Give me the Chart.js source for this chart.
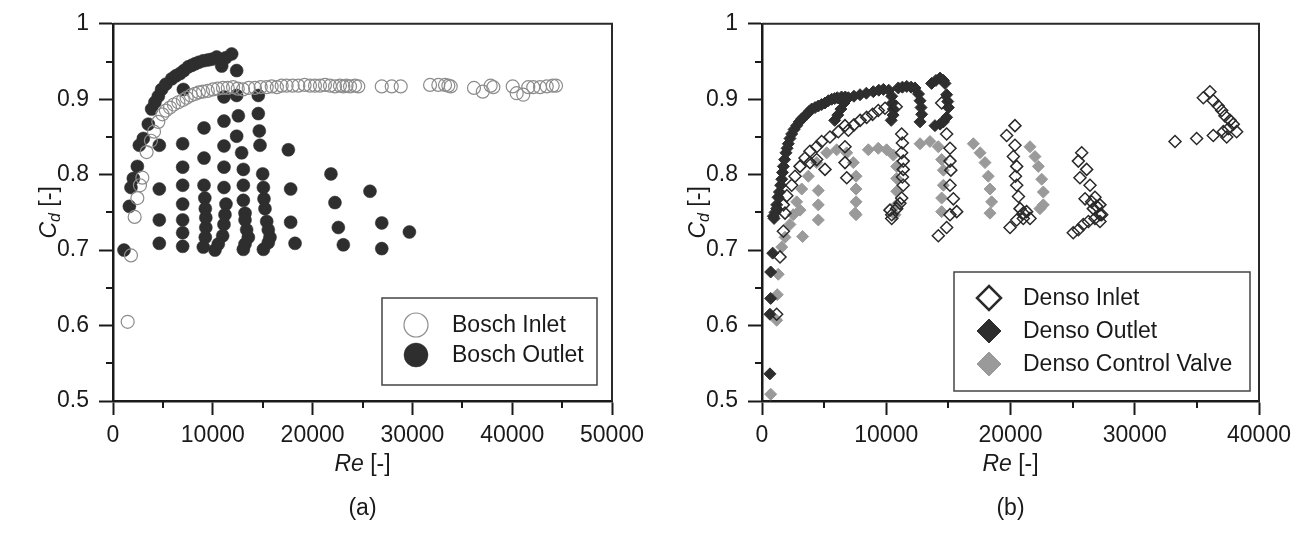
<!DOCTYPE html>
<html>
<head>
<meta charset="utf-8">
<script src="https://cdn.jsdelivr.net/npm/chart.js@4.4.1/dist/chart.umd.min.js"></script>
<style>
  html, body { margin: 0; padding: 0; background: #fff; }
  #wrap { position: relative; width: 1311px; height: 536px; }
  canvas { position: absolute; top: 0; }
</style>
</head>
<body>
<div id="wrap">
  <canvas id="chartA" width="655" height="536" style="left:0"></canvas>
  <canvas id="chartB" width="656" height="536" style="left:655px"></canvas>
</div>
<script>
// ---- axes ----
const cdTicks = [0.5, 0.6, 0.7, 0.8, 0.9, 1];
const cdMinor = [0.55, 0.65, 0.75, 0.85, 0.95];
const reTicksA = [0, 10000, 20000, 30000, 40000, 50000];
const reMinorA = [5000, 15000, 25000, 35000, 45000];
const reTicksB = [0, 10000, 20000, 30000, 40000];
const reMinorB = [5000, 15000, 25000, 35000];

// ---- (a) Bosch ----
const boschInletRe = [1470, 1800, 2170, 2440, 2700, 2940, 3370, 3800, 4110, 4540, 4950, 5300, 5710, 6100, 6550, 7000, 7380, 7800, 8220, 8600,
  9020, 9500, 10020, 10500, 11020, 11500, 12030, 12500, 13030, 13600, 14230, 14800, 15400, 15900, 16420, 16900, 17400, 18000, 18570, 19200,
  19740, 20240, 20740, 21240, 21740, 22250, 22740, 23080, 23400, 23750, 24250, 24580, 26930, 27930, 28830, 31770, 32600, 33270, 33600, 33840,
  36170, 37050, 37840, 38110, 40050, 40450, 41110, 41610, 42110, 42790, 43460, 44060, 44390];
const boschInletCd = [0.605, 0.693, 0.744, 0.769, 0.786, 0.796, 0.830, 0.845, 0.857, 0.870, 0.880, 0.885, 0.889, 0.893, 0.896, 0.899, 0.902, 0.905, 0.907, 0.909,
  0.910, 0.911, 0.913, 0.914, 0.915, 0.915, 0.916, 0.914, 0.913, 0.915, 0.915, 0.916, 0.916, 0.917, 0.916, 0.918, 0.918, 0.918, 0.918, 0.919,
  0.918, 0.918, 0.918, 0.919, 0.918, 0.917, 0.918, 0.917, 0.918, 0.917, 0.918, 0.917, 0.917, 0.917, 0.917, 0.919, 0.919, 0.919, 0.918, 0.917,
  0.915, 0.910, 0.918, 0.916, 0.917, 0.908, 0.906, 0.916, 0.916, 0.916, 0.917, 0.918, 0.918];

const boschOutletRe = [1100, 1640, 1800, 2040, 2440, 2640, 3040, 3540, 3870, 4200, 4540, 4870, 5300, 5880, 6300, 6710, 7100, 7550, 7900, 8220,
  8600, 9050, 9500, 9890, 10390, 10890, 11300, 11890, 12390, 7050,
  4640, 4640, 4640, 4640,
  6980, 6980, 6980, 6980, 6980, 6980, 6980,
  9120, 9120, 9120, 9200, 9250, 9300, 9300, 9250, 9050,
  11120, 11120, 11120, 11120, 11120, 11320, 11220, 11120, 10990, 10550, 10220,
  12390, 12560, 12390, 12890, 13060, 13060, 13060, 13230, 13230, 13390, 13560, 13230, 13060,
  14560, 14560, 14660, 14730, 15000, 15070, 15130, 15230, 15400, 15560, 15730, 15560, 15070,
  17570, 17800, 17800, 18240,
  21840, 22240, 22580, 23080,
  25750, 26930, 26930, 29700];
const boschOutletCd = [0.700, 0.758, 0.783, 0.795, 0.811, 0.839, 0.848, 0.867, 0.887, 0.896, 0.904, 0.913, 0.920, 0.927, 0.931, 0.934, 0.938, 0.943, 0.945, 0.947,
  0.949, 0.951, 0.952, 0.953, 0.956, 0.944, 0.955, 0.960, 0.938, 0.913,
  0.839, 0.781, 0.740, 0.709,
  0.841, 0.810, 0.786, 0.761, 0.740, 0.723, 0.705,
  0.862, 0.822, 0.786, 0.769, 0.755, 0.743, 0.730, 0.717, 0.704,
  0.903, 0.871, 0.838, 0.810, 0.783, 0.761, 0.747, 0.734, 0.719, 0.708, 0.700,
  0.905, 0.878, 0.851, 0.829, 0.807, 0.786, 0.766, 0.749, 0.740, 0.727, 0.717, 0.708, 0.701,
  0.905, 0.881, 0.858, 0.839, 0.801, 0.783, 0.768, 0.755, 0.738, 0.727, 0.717, 0.710, 0.701,
  0.833, 0.781, 0.737, 0.709,
  0.801, 0.763, 0.730, 0.707,
  0.778, 0.736, 0.702, 0.724];

// ---- (b) Denso ----
const densoInletRe = [1180, 1450, 1720, 1850, 1720, 2000, 2390, 2660, 3060, 3460, 3860, 4400, 4800, 5470, 6140, 6680, 6950,
  6680, 6680, 6820, 3860, 4400, 5070,
  7400, 7900, 8420, 8900, 9360, 9900, 10800,
  11240, 11300, 11240, 11370, 11370, 11300, 11370, 11240, 11100, 10840, 10440, 10300, 10440,
  14460, 14860, 15130, 15130, 15200, 15130, 15400, 15670, 15130, 14860, 14190,
  20360, 19690, 20360, 20230, 20500, 20400, 20500, 20640, 20770, 21030, 19960, 20500, 21030, 21300, 21570,
  25730, 25460, 26130, 25590, 26400, 26000, 26530, 26800, 26940, 27200, 25050, 25460, 25860, 26270, 26800, 27200, 27340, 26670, 27200,
  33240, 34980, 36320, 37130, 35520, 36050, 36320, 36720, 37000, 37260, 37670, 37930, 38200, 37530, 37400];
const densoInletCd = [0.615, 0.691, 0.725, 0.749, 0.760, 0.772, 0.786, 0.798, 0.811, 0.822, 0.831, 0.837, 0.844, 0.850, 0.857, 0.865, 0.859,
  0.837, 0.816, 0.796, 0.816, 0.820, 0.807,
  0.866, 0.872, 0.876, 0.880, 0.885, 0.888, 0.890,
  0.854, 0.842, 0.829, 0.818, 0.807, 0.797, 0.786, 0.769, 0.762, 0.755, 0.747, 0.753, 0.742,
  0.895, 0.854, 0.835, 0.818, 0.806, 0.786, 0.768, 0.751, 0.747, 0.730, 0.719,
  0.865, 0.852, 0.839, 0.824, 0.811, 0.798, 0.786, 0.771, 0.755, 0.742, 0.730, 0.740, 0.749, 0.751, 0.742,
  0.829, 0.818, 0.807, 0.796, 0.786, 0.768, 0.764, 0.770, 0.758, 0.747, 0.723, 0.727, 0.734, 0.738, 0.742, 0.738, 0.747, 0.755, 0.760,
  0.844, 0.848, 0.852, 0.857, 0.902, 0.910, 0.898, 0.891, 0.885, 0.878, 0.872, 0.867, 0.857, 0.861, 0.850];

const densoOutletRe = [640, 640, 700, 700, 860, 970, 1180,
  910, 1050, 1180, 1290, 1400, 1500, 1590, 1650, 1720, 1820, 1930, 2020, 2120, 2250, 2390, 2580, 2790, 3000, 3200, 3400, 3600, 3800, 4000, 4270,
  4530, 4800, 5070, 5340, 5610, 5850, 6060,
  6400, 6700, 6600, 6350, 6100, 5850,
  6950, 7400, 7890, 8400, 8960, 9400, 9770, 10200, 10440, 10500, 10570, 10550, 10400,
  10970, 11300, 11650, 12000, 12310, 12600, 12720, 12800, 12850, 12720,
  13650, 14000, 14330, 14600, 14730, 14860, 14950, 15000, 14860, 14600, 14330, 13920];
const densoOutletCd = [0.536, 0.615, 0.636, 0.671, 0.696, 0.742, 0.755,
  0.745, 0.750, 0.760, 0.770, 0.777, 0.786, 0.794, 0.803, 0.811, 0.820, 0.829, 0.835, 0.841, 0.848, 0.854, 0.860, 0.865, 0.870, 0.874, 0.877, 0.880, 0.884, 0.887, 0.889,
  0.891, 0.893, 0.895, 0.898, 0.900, 0.901, 0.902,
  0.903, 0.903, 0.895, 0.887, 0.879, 0.872,
  0.902, 0.904, 0.906, 0.908, 0.910, 0.912, 0.913, 0.912, 0.904, 0.895, 0.887, 0.879, 0.872,
  0.915, 0.916, 0.917, 0.916, 0.915, 0.907, 0.898, 0.889, 0.880, 0.870,
  0.921, 0.925, 0.928, 0.925, 0.921, 0.906, 0.897, 0.889, 0.876, 0.870, 0.867, 0.865];

const densoValveRe = [700, 1180, 1230, 1310, 1590, 1850, 2250, 2520, 3060, 3270,
  2790, 3200, 3730, 4400, 5210, 6010, 6820, 7350, 7570, 7570, 7570, 7570, 7490,
  4530, 4530, 4530,
  8560, 9360, 10030, 10570, 10840, 10840, 10840, 10840, 10700,
  12720, 13520, 14190, 14460, 14600, 14600, 14460, 14460,
  17010, 17550, 17950, 18210, 18350, 18480, 18350,
  21570, 21970, 22240, 22510, 22640, 22640, 22370];
const densoValveCd = [0.509, 0.607, 0.641, 0.668, 0.704, 0.717, 0.734, 0.747, 0.753, 0.718,
  0.764, 0.781, 0.798, 0.816, 0.829, 0.833, 0.829, 0.816, 0.798, 0.781, 0.764, 0.747, 0.749,
  0.779, 0.760, 0.740,
  0.833, 0.835, 0.833, 0.826, 0.811, 0.795, 0.778, 0.760, 0.747,
  0.841, 0.844, 0.837, 0.820, 0.806, 0.786, 0.769, 0.751,
  0.841, 0.829, 0.816, 0.798, 0.781, 0.764, 0.749,
  0.837, 0.824, 0.811, 0.794, 0.777, 0.760, 0.755];

const FONT = "'Liberation Sans', Arial, sans-serif";
const INK = '#1a1a1a';

function pts(xs, ys) {
  return xs.map((x, i) => ({ x: x, y: ys[i] }));
}

function drawMarker(ctx, ds, x, y, r) {
  ctx.save();
  ctx.beginPath();
  if (ds.pointStyle === 'rectRot') {
    ctx.moveTo(x, y - r); ctx.lineTo(x + r, y); ctx.lineTo(x, y + r); ctx.lineTo(x - r, y);
    ctx.closePath();
  } else {
    ctx.arc(x, y, r, 0, Math.PI * 2);
  }
  ctx.fillStyle = ds.backgroundColor === 'rgba(0,0,0,0)' ? '#fff' : ds.backgroundColor;
  ctx.fill();
  ctx.lineWidth = ds.legendBorder || ds.borderWidth;
  ctx.strokeStyle = ds.borderColor;
  ctx.stroke();
  ctx.restore();
}

// text pieces: [text, italic, size, dy]
function drawPieces(ctx, pieces, cx, cy) {
  let total = 0;
  pieces.forEach(p => {
    ctx.font = (p[1] ? 'italic ' : '') + p[2] + 'px ' + FONT;
    total += ctx.measureText(p[0]).width;
  });
  let x = cx - total / 2;
  pieces.forEach(p => {
    ctx.font = (p[1] ? 'italic ' : '') + p[2] + 'px ' + FONT;
    ctx.fillText(p[0], x, cy + p[3]);
    x += ctx.measureText(p[0]).width;
  });
}

const framePlugin = {
  id: 'frame',
  afterDraw(chart, args, o) {
    const ctx = chart.ctx;
    const a = chart.chartArea;
    const sx = chart.scales.x, sy = chart.scales.y;
    ctx.save();
    // minor ticks
    ctx.strokeStyle = INK;
    ctx.lineWidth = 2;
    ctx.beginPath();
    o.minorY.forEach(v => {
      const p = Math.round(sy.getPixelForValue(v));
      ctx.moveTo(a.left - 7, p); ctx.lineTo(a.left, p);
    });
    o.minorX.forEach(v => {
      const p = Math.round(sx.getPixelForValue(v));
      ctx.moveTo(p, a.bottom); ctx.lineTo(p, a.bottom + 7);
    });
    ctx.stroke();
    // top and right frame
    ctx.strokeStyle = '#2a2a2a';
    ctx.lineWidth = 2;
    ctx.beginPath();
    ctx.moveTo(a.left, a.top); ctx.lineTo(a.right, a.top); ctx.lineTo(a.right, a.bottom);
    ctx.stroke();

    // axis titles
    ctx.fillStyle = INK;
    ctx.textBaseline = 'middle';
    ctx.textAlign = 'left';
    const mid = (a.left + a.right) / 2;
    drawPieces(ctx, [['Re', true, 23, 0], [' [-]', false, 23, 0]], mid, o.xTitleY);
    drawPieces(ctx, [[o.panel, false, 23, 0]], mid, o.panelY);
    ctx.save();
    ctx.translate(o.yTitleX, (a.top + a.bottom) / 2);
    ctx.rotate(-Math.PI / 2);
    drawPieces(ctx, [['C', true, 23, 0], ['d', true, 16, 6], [' [-]', false, 23, 0]], 0, 0);
    ctx.restore();

    // legend
    const L = o.legend;
    ctx.fillStyle = '#fff';
    ctx.fillRect(L.x, L.y, L.w, L.h);
    ctx.strokeStyle = '#444';
    ctx.lineWidth = 1.5;
    ctx.strokeRect(L.x, L.y, L.w, L.h);
    chart.data.datasets.forEach((ds, i) => {
      const yy = L.y + L.first + i * L.gap;
      drawMarker(ctx, ds, L.x + L.mx, yy, L.r);
      ctx.fillStyle = INK;
      ctx.font = '23px ' + FONT;
      ctx.textAlign = 'left';
      ctx.textBaseline = 'middle';
      ctx.fillText(ds.label, L.x + L.tx, yy + 1);
    });
    ctx.restore();
  }
};

function makeChart(id, c) {
  return new Chart(document.getElementById(id), {
    type: 'scatter',
    data: { datasets: c.datasets },
    options: {
      responsive: false,
      animation: false,
      events: [],
      layout: { padding: { left: 0, top: 14, right: c.padRight, bottom: 0 } },
      plugins: {
        legend: { display: false },
        tooltip: { enabled: false },
        frame: c.frame
      },
      scales: {
        x: {
          type: 'linear',
          min: 0,
          max: c.xTicks[c.xTicks.length - 1],
          afterBuildTicks: s => { s.ticks = c.xTicks.map(v => ({ value: v })); },
          afterFit: s => { s.height = 135; },
          ticks: {
            callback: v => String(v),
            font: { family: FONT, size: 23 },
            color: INK,
            padding: 7,
            maxRotation: 0,
            autoSkip: false
          },
          grid: { drawOnChartArea: false, tickLength: 14, tickWidth: 2, tickColor: INK },
          border: { color: INK, width: 2.5 }
        },
        y: {
          type: 'linear',
          min: 0.5,
          max: 1,
          afterBuildTicks: s => { s.ticks = cdTicks.map(v => ({ value: v })); },
          afterFit: s => { s.width = c.yWidth; },
          ticks: {
            callback: v => (v === 1 ? '1' : v.toFixed(1)),
            font: { family: FONT, size: 23 },
            color: INK,
            padding: 10
          },
          grid: { drawOnChartArea: false, tickLength: 14, tickWidth: 2, tickColor: INK },
          border: { color: INK, width: 2.5 }
        }
      }
    },
    plugins: [framePlugin]
  });
}

makeChart('chartA', {
  padRight: 43,
  yWidth: 113,
  xTicks: reTicksA,
  frame: {
    minorX: reMinorA, minorY: cdMinor, panel: '(a)',
    xTitleY: 465, panelY: 509, yTitleX: 50,
    legend: { x: 382, y: 298, w: 215, h: 87, first: 27, gap: 30, mx: 34, tx: 70, r: 12 }
  },
  datasets: [
    {
      label: 'Bosch Inlet',
      data: pts(boschInletRe, boschInletCd),
      pointStyle: 'circle',
      pointRadius: 6.5,
      backgroundColor: 'rgba(0,0,0,0)',
      borderColor: '#8c8c8c',
      borderWidth: 1.2,
      legendBorder: 1.2
    },
    {
      label: 'Bosch Outlet',
      data: pts(boschOutletRe, boschOutletCd),
      pointStyle: 'circle',
      pointRadius: 6.5,
      backgroundColor: '#2e2e2e',
      borderColor: '#2e2e2e',
      borderWidth: 0.5
    }
  ]
});

makeChart('chartB', {
  padRight: 52,
  yWidth: 107,
  xTicks: reTicksB,
  frame: {
    minorX: reMinorB, minorY: cdMinor, panel: '(b)',
    xTitleY: 465, panelY: 509, yTitleX: 44,
    legend: { x: 299, y: 272, w: 296, h: 119, first: 26, gap: 33, mx: 35, tx: 69, r: 12 }
  },
  datasets: [
    {
      label: 'Denso Inlet',
      data: pts(densoInletRe, densoInletCd),
      pointStyle: 'rectRot',
      pointRadius: 6,
      backgroundColor: 'rgba(0,0,0,0)',
      borderColor: '#2a2a2a',
      borderWidth: 1.5,
      legendBorder: 2.5
    },
    {
      label: 'Denso Outlet',
      data: pts(densoOutletRe, densoOutletCd),
      pointStyle: 'rectRot',
      pointRadius: 6,
      backgroundColor: '#2e2e2e',
      borderColor: '#2e2e2e',
      borderWidth: 1
    },
    {
      label: 'Denso Control Valve',
      data: pts(densoValveRe, densoValveCd),
      pointStyle: 'rectRot',
      pointRadius: 6,
      backgroundColor: '#9a9a9a',
      borderColor: '#9a9a9a',
      borderWidth: 1
    }
  ]
});
</script>
</body>
</html>
